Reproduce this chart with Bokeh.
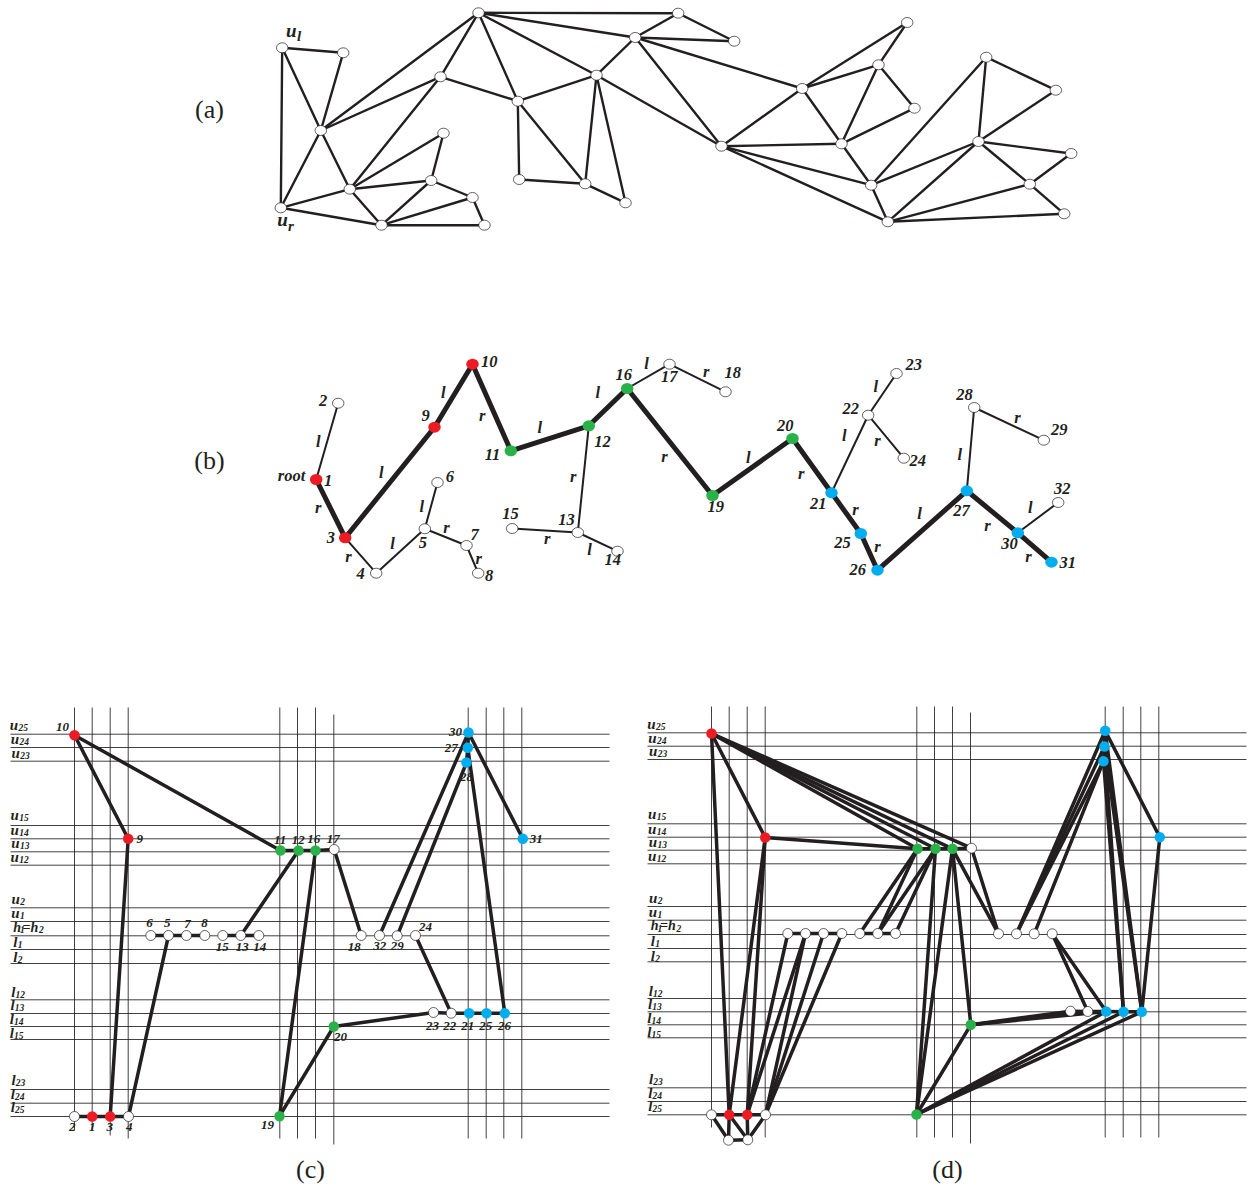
from bokeh.plotting import figure
from bokeh.models import Range1d
from bokeh.core.properties import value
from bokeh.embed import file_html
from bokeh.resources import INLINE

INK = "#231F20"
RED = "#ED1C24"
GREEN = "#2BB14A"
BLUE = "#00AEEF"
WHITE = "#FFFFFF"
SERIF = "Liberation Serif"

# ---------- panel (a): planar graph ----------
A_NODES = {
    "ul": (281.7, 47.3), "n2": (342.7, 52.3), "c": (320.3, 130), "ur": (280.3, 207.3),
    "e": (349.3, 188.7), "f": (381, 224.7), "g": (430.7, 180), "h": (443, 132.7),
    "i": (472, 197), "j": (484, 224.7), "k": (440, 76.3), "top": (478, 12.3),
    "m": (517.3, 100.7), "n": (596, 74.7), "o": (634.7, 37), "p": (677.7, 12.7),
    "q": (733.7, 40.7), "r": (518.7, 179), "s": (584.7, 183.3), "t": (625, 202.3),
    "u": (721, 145.7), "v": (801.7, 88), "w": (878, 64.3), "x": (906.7, 22),
    "y": (914, 107.7), "z": (841, 143.3), "aa": (870.7, 184.7), "ab": (887.3, 221.3),
    "ac": (985.7, 56.7), "ad": (1055.3, 89.7), "ae": (978, 141), "af": (1070.7, 153),
    "ag": (1029.3, 183.7), "ah": (1063.7, 213.3),
}
A_EDGES = [
    ("ul", "n2"), ("ul", "ur"), ("ul", "c"), ("n2", "c"), ("c", "ur"), ("c", "e"), ("c", "top"),
    ("c", "k"), ("ur", "e"), ("ur", "f"), ("e", "f"), ("e", "k"), ("e", "h"), ("e", "g"),
    ("h", "g"), ("g", "f"), ("g", "i"), ("i", "f"), ("i", "j"), ("f", "j"), ("k", "top"),
    ("k", "m"), ("top", "m"), ("top", "n"), ("top", "o"), ("top", "p"), ("m", "n"), ("m", "r"),
    ("m", "s"), ("r", "s"), ("n", "s"), ("n", "t"), ("s", "t"), ("n", "o"), ("n", "u"),
    ("o", "p"), ("o", "q"), ("o", "v"), ("o", "u"), ("p", "q"), ("u", "v"), ("u", "z"),
    ("u", "aa"), ("u", "ab"), ("v", "x"), ("v", "w"), ("v", "z"), ("w", "x"), ("w", "z"),
    ("w", "y"), ("z", "y"), ("z", "aa"), ("aa", "ab"), ("aa", "ac"), ("aa", "ae"), ("ab", "ae"),
    ("ab", "ag"), ("ab", "ah"), ("ac", "ad"), ("ac", "ae"), ("ad", "ae"), ("ae", "af"),
    ("ae", "ag"), ("af", "ag"), ("ag", "ah"),
]
A_LABELS = [("u", 290.7, 30, 19), ("l", 298.5, 35, 15), ("u", 282, 219, 19), ("r", 290.5, 225, 15)]

# ---------- panel (b): tree ----------
B_NODES = {
    1: (315.7, 479), 2: (337.7, 402.7), 3: (344.7, 537.3), 4: (375.7, 572.7), 5: (424.3, 528.3),
    6: (437, 482), 7: (466, 545), 8: (477.7, 572.7), 9: (434, 426.7), 10: (472, 363.7),
    11: (510.3, 450.3), 12: (588.3, 425.3), 13: (577.3, 532), 14: (617, 550.7), 15: (511.7, 528),
    16: (626.7, 388), 17: (669, 363.7), 18: (725, 391.3), 19: (712, 495), 20: (792, 438),
    21: (831, 492.3), 22: (867.7, 414.7), 23: (896, 373), 24: (903.3, 457.7), 25: (860.3, 533),
    26: (877, 569.7), 27: (966.3, 490.3), 28: (973.7, 407), 29: (1043.3, 439.7),
    30: (1017.3, 532.3), 31: (1051, 561.7), 32: (1057.7, 502),
}
B_SPINE = [1, 3, 9, 10, 11, 12, 16, 19, 20, 21, 25, 26, 27, 30, 31]
B_THIN = [(1, 2), (3, 4), (4, 5), (5, 6), (5, 7), (7, 8), (12, 13), (13, 15), (13, 14), (16, 17),
          (17, 18), (21, 22), (22, 23), (22, 24), (27, 28), (28, 29), (30, 32)]
B_TEXT = [
    ("root", 291, 475.7), ("1", 327.7, 480.7), ("2", 322.7, 400.7), ("l", 317.7, 441.7), ("r", 317.7, 507.7),
    ("3", 330.3, 537.7), ("r", 348, 556.7), ("4", 360, 574), ("l", 392, 543.7), ("5", 422.3, 543),
    ("l", 421.3, 507.3), ("6", 449.3, 476.7), ("r", 446, 528.3), ("7", 474, 535), ("r", 478.3, 559),
    ("8", 488.7, 575.7), ("l", 380.7, 473.3), ("9", 425, 416), ("l", 442.7, 392.7), ("10", 488.7, 362),
    ("r", 481.7, 415.7), ("11", 492, 455), ("l", 539.3, 427.7), ("12", 602, 441.7), ("l", 597.3, 393.3),
    ("16", 623.3, 375), ("l", 646, 364.3), ("17", 668.7, 376.7), ("r", 572.7, 477.3), ("13", 566, 520),
    ("15", 510, 514), ("r", 546.7, 538.7), ("l", 589, 550), ("14", 612.3, 560.3), ("r", 664, 456.7),
    ("r", 705.7, 372.3), ("18", 732.3, 372.7), ("19", 715.3, 507.3), ("l", 747.7, 458.3), ("20", 784.7, 426),
    ("r", 800.7, 474.3), ("21", 817.7, 504.3), ("l", 843.7, 436), ("22", 850.3, 409), ("l", 875.3, 386.7),
    ("23", 913.3, 364.7), ("r", 877, 441.3), ("24", 917.3, 460.7), ("r", 855, 510.3), ("25", 842, 543.3),
    ("r", 877, 546.7), ("26", 857.3, 570.3), ("l", 919, 513.7), ("27", 961, 511), ("l", 959.3, 455),
    ("28", 964, 394.7), ("r", 1017, 417.7), ("29", 1058.7, 429.7), ("r", 987, 525.7), ("30", 1009, 544.3),
    ("l", 1029.7, 507.7), ("32", 1061.7, 488.7), ("r", 1028, 556.7), ("31", 1067.3, 562.7),
]

REDS = [1, 3, 9, 10]
GREENS = [11, 12, 16, 19, 20]
B_BLUES = [21, 25, 26, 27, 30, 31]
CD_BLUES = [21, 25, 26, 27, 28, 30, 31]

# ---------- panel (c): visibility drawing ----------
C_H = [733.7, 747, 760.7, 825, 838.3, 851.3, 864.7, 907.3, 921, 935.3, 949, 963, 999.3, 1013, 1026,
       1039, 1089, 1102.7, 1116]
C_V = [(74, 707, 1130), (91.7, 707, 1130), (109.7, 707, 1135), (127.7, 707, 1138), (279.3, 707, 1138),
       (297, 707, 1138), (315, 707, 1138), (333.3, 714, 1144), (467.7, 707, 1138), (485.7, 707, 1138),
       (503.3, 707, 1138), (521.3, 707, 1138)]
C_SPAN = (10, 609)
C_NODES = {
    2: (74, 1116), 1: (91.7, 1116), 3: (109.7, 1116), 4: (128, 1116), 19: (279, 1115.7),
    10: (74, 734.7), 9: (127.7, 838.3), 11: (280, 850), 12: (298, 850), 16: (315, 850), 17: (333.7, 849),
    6: (150.3, 935), 5: (168, 935), 7: (186, 935), 8: (204.3, 935), 15: (222.3, 935), 13: (240.3, 935),
    14: (258.3, 935), 18: (360.7, 935), 32: (379, 935), 29: (396.7, 935.3), 24: (415, 935),
    23: (433, 1012), 22: (450.7, 1012.7), 21: (468.7, 1012.7), 25: (486, 1012.7), 26: (504.3, 1012.7),
    20: (333.3, 1026), 30: (468, 732), 27: (467.3, 747.3), 28: (466, 762), 31: (522.3, 838.3),
}
C_EDGES = [(10, 9), (10, 11), (9, 3), (4, 5), (11, 12), (12, 16), (16, 17), (12, 13), (16, 19), (17, 18),
           (19, 20), (20, 23), (23, 22), (22, 21), (21, 25), (25, 26), (22, 24), (32, 30), (29, 28),
           (30, 31), (27, 26), (30, 27), (27, 28), (2, 1), (1, 3), (3, 4), (6, 5), (5, 7), (7, 8),
           (15, 13), (13, 14)]
C_TEXT = [
    ("10", 62, 726.7), ("9", 139.3, 838.3), ("11", 279.7, 839), ("12", 297.7, 839), ("16", 313.3, 838.3),
    ("17", 332.7, 838.3), ("6", 149, 922.7), ("5", 166.7, 922.7), ("7", 187, 923.7), ("8", 204, 922.7),
    ("15", 221.7, 946.7), ("13", 241.7, 946), ("14", 259.3, 946), ("2", 71.7, 1126.7), ("1", 91.7, 1126.7),
    ("3", 109.3, 1126.7), ("4", 128.7, 1126.7), ("19", 267, 1124.3), ("30", 455, 731.7), ("27", 450.7, 747.7),
    ("28", 466, 776.7), ("31", 535.7, 838.3), ("18", 353.7, 946.3), ("32", 379.3, 945.3), ("29", 396.7, 945.3),
    ("24", 425, 926.7), ("23", 432, 1025), ("22", 449.3, 1025), ("21", 467.3, 1025), ("25", 485.3, 1025),
    ("26", 504, 1025), ("20", 340, 1036.7),
]
# (letter, subscript, left x, baseline y, subscript x)
C_LEVELS = [
    ("u", "25", 9.3, 728.3, 18), ("u", "24", 10.3, 742, 19), ("u", "23", 11, 755.5, 19.7),
    ("u", "15", 10, 818, 18.7), ("u", "14", 10, 833, 18.7), ("u", "13", 10.7, 846, 19.4), ("u", "12", 10, 860, 18.7),
    ("u", "2", 11, 902, 19.7), ("u", "1", 10.7, 916, 19.4), ("l", "1", 12.7, 945, 17.2), ("l", "2", 12.7, 960, 17.2),
    ("l", "12", 10.7, 995, 15), ("l", "13", 10, 1008, 14.3), ("l", "14", 9.3, 1022, 13.6), ("l", "15", 9.3, 1036, 13.6),
    ("l", "23", 11, 1083, 15.3), ("l", "24", 10.3, 1097, 14.6), ("l", "25", 10.3, 1110, 14.6),
]

# ---------- panel (d): augmented drawing ----------
D_H = [732.3, 745.7, 759, 823.3, 836.7, 849.7, 863.3, 906, 919.7, 934, 948, 961.3, 998, 1011.3, 1024.3,
       1037.3, 1087.3, 1101, 1114.3]
D_V = [(711, 706, 1127), (728.7, 706, 1140), (746.7, 706, 1140), (764.7, 706, 1137), (916.3, 706, 1137),
       (934, 706, 1137), (952, 706, 1137), (970, 712, 1143), (1104.7, 706, 1137), (1122.7, 706, 1137),
       (1140.3, 706, 1137), (1158.3, 706, 1137)]
D_SPAN = (647, 1246)
D_NODES = {
    2: (711, 1114.3), 1: (728.7, 1114.3), 3: (746.7, 1114.3), 4: (765, 1114.3), 19: (916, 1114),
    "b1": (728, 1139.7), "b2": (747.3, 1139.3),
    10: (711, 733), 9: (764.7, 837), 11: (917, 848.3), 12: (935, 848.3), 16: (952, 848.3), 17: (971, 847.7),
    6: (787.3, 933), 5: (805, 933), 7: (823, 933), 8: (841.3, 933), 15: (859.3, 933), 13: (877.3, 933),
    14: (895, 933), 18: (998, 933.3), 32: (1016, 933.3), 29: (1033.7, 933.3), 24: (1051.7, 933.3),
    23: (1070, 1010.7), 22: (1087.3, 1011), 21: (1105.7, 1011), 25: (1123, 1011.3), 26: (1141.3, 1011.3),
    20: (970.3, 1024.3), 30: (1104.7, 730.3), 27: (1104, 746), 28: (1103, 760.7), 31: (1159.3, 836.7),
}
D_EDGES = [
    (2, 1), (1, 3), (3, 4), (2, "b1"), (1, "b1"), (1, "b2"), (3, "b2"), (4, "b2"), ("b1", "b2"),
    (10, 1), (10, 9), (10, 11), (10, 12), (10, 16), (10, 17), (9, 11), (9, 1), (9, 3),
    (6, 3), (5, 3), (5, 4), (7, 4), (8, 4), (6, 5), (5, 7), (7, 8), (15, 13), (13, 14),
    (11, 12), (12, 16), (16, 17), (11, 15), (11, 13), (12, 13), (12, 14), (12, 19), (16, 19), (16, 20),
    (16, 18), (17, 18), (19, 20), (20, 23), (20, 22), (20, 21), (23, 22), (22, 21), (21, 25), (25, 26),
    (24, 22), (24, 21), (32, 30), (32, 27), (32, 28), (29, 28), (30, 31), (31, 26), (30, 26),
    (27, 26), (27, 25), (28, 25), (30, 27), (27, 28), (19, 21), (19, 25), (19, 26),
]
D_SHIFT = (637.5, -1.5)

CAPTIONS = [("(a)", 209, 109), ("(b)", 209, 460), ("(c)", 310, 1169), ("(d)", 947, 1169)]

# ---------- drawing ----------
p = figure(width=1248, height=1186, x_range=Range1d(0, 1248), y_range=Range1d(1186, 0),
           output_backend="svg", toolbar_location=None, x_axis_location=None, y_axis_location=None,
           min_border=0, outline_line_color=None, background_fill_color=WHITE)
p.grid.visible = False


def draw_edges(nodes, edges, width):
    p.segment([nodes[a][0] for a, b in edges], [nodes[a][1] for a, b in edges],
              [nodes[b][0] for a, b in edges], [nodes[b][1] for a, b in edges],
              line_color=INK, line_width=width, line_cap="round")


def draw_nodes(nodes, w, h, cw, ch, blues):
    for fill, keys, ew, eh in [(WHITE, [k for k in nodes if k not in REDS + GREENS + blues], w, h),
                               (RED, [k for k in nodes if k in REDS], cw, ch),
                               (GREEN, [k for k in nodes if k in GREENS], cw, ch),
                               (BLUE, [k for k in nodes if k in blues], cw, ch)]:
        if not keys:
            continue
        p.ellipse([nodes[k][0] for k in keys], [nodes[k][1] for k in keys], width=ew, height=eh,
                  fill_color=fill, line_color=INK if fill == WHITE else fill,
                  line_width=0.7 if fill == WHITE else 0)


def draw_text(items, size, align="center", baseline="middle", style="bold italic", dx=0, dy=0):
    p.text([t[1] + dx for t in items], [t[2] + dy for t in items], text=[t[0] for t in items],
           text_font=value(SERIF), text_font_size=value(f"{size}px"), text_font_style=style,
           text_color=INK, text_align=align, text_baseline=baseline)


def draw_levels(shift):
    dx, dy = shift
    dy -= 3.5
    base = [(a, x, y) for a, s, x, y, sx in C_LEVELS]
    sub = [(s, sx, y + 2.5) for a, s, x, y, sx in C_LEVELS]
    draw_text(base, 15, "left", "alphabetic", dx=dx, dy=dy)
    draw_text(sub, 9.5, "left", "alphabetic", dx=dx, dy=dy)
    draw_text([("h", 12.7, 930), ("=h", 22, 930)], 14, "left", "alphabetic", dx=dx, dy=dy)
    draw_text([("1", 19.5, 932.5), ("2", 38.5, 932.5)], 9.5, "left", "alphabetic", dx=dx, dy=dy)


def draw_grid(hs, vs, span):
    p.segment([span[0]] * len(hs), hs, [span[1]] * len(hs), hs, line_color=INK, line_width=1, line_alpha=0.85)
    p.segment([v[0] for v in vs], [v[1] for v in vs], [v[0] for v in vs], [v[2] for v in vs],
              line_color=INK, line_width=1, line_alpha=0.85)


# (a)
draw_edges(A_NODES, A_EDGES, 2.4)
draw_nodes(A_NODES, 11.5, 10, 11.5, 10, [])
for t, x, y, s in A_LABELS:
    draw_text([(t, x, y)], s)

# (b)
draw_edges(B_NODES, B_THIN, 2)
draw_edges(B_NODES, list(zip(B_SPINE[:-1], B_SPINE[1:])), 5)
draw_nodes(B_NODES, 11.5, 10, 12.5, 11, B_BLUES)
draw_text(B_TEXT, 16.5, dy=-1)

# (c)
draw_grid(C_H, C_V, C_SPAN)
draw_edges(C_NODES, C_EDGES, 3.5)
draw_nodes(C_NODES, 10, 10, 10.5, 10.5, CD_BLUES)
draw_text(C_TEXT, 13)
draw_levels((0, 0))

# (d)
draw_grid(D_H, D_V, D_SPAN)
draw_edges(D_NODES, D_EDGES, 3.5)
draw_nodes(D_NODES, 10, 10, 10.5, 10.5, CD_BLUES)
draw_levels(D_SHIFT)

# captions
draw_text(CAPTIONS, 26, style="normal")

open("out.html", "w").write(file_html(p, INLINE))
